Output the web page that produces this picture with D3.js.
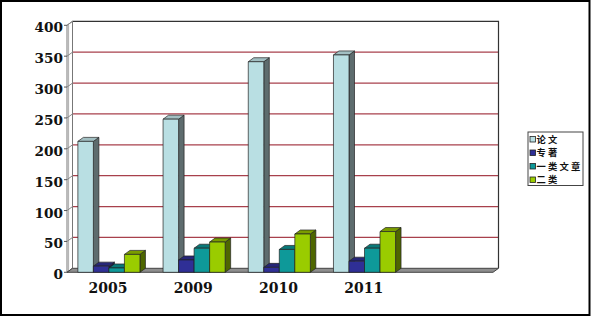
<!DOCTYPE html>
<html><head><meta charset="utf-8">
<script src="https://cdn.jsdelivr.net/npm/d3@7"></script>
<style>body{margin:0;background:#fff}svg{display:block}</style>
</head><body>
<script>
const categories = ["2005", "2009", "2010", "2011", ""];
const seriesNames = ["论文", "专著", "一类文章", "二类"];
const lunwen = [212, 248, 341, 352, null];
const zhuanzhu = [10, 20, 8, 18, null];
const yilei = [7, 39, 37, 39, null];
const erlei = [29, 49, 62, 66, null];
const yTicks = [0, 50, 100, 150, 200, 250, 300, 350, 400];

const seriesValues = [lunwen, zhuanzhu, yilei, erlei];
const colors = [
  {front: "#b9dfe3", side: "#5e6c6e", top: "#a2bfc2"},
  {front: "#2f2f96", side: "#18184e", top: "#262678"},
  {front: "#0e9999", side: "#0a4f4f", top: "#0a7878"},
  {front: "#9acc00", side: "#4e6600", top: "#7a9c00"}
];

const W = 591, H = 317, DX = 5.5, DY = 4;
const svg = d3.select("body").append("svg").attr("width", W).attr("height", H);

svg.append("rect").attr("x", 1).attr("y", 1).attr("width", 588.5).attr("height", 314)
  .attr("fill", "#fff").attr("stroke", "#000").attr("stroke-width", 2);

const y = d3.scaleLinear().domain([0, 400]).range([272.3, 25.3]);
const x = d3.scaleBand().domain(categories).range([67, 493]);
const xs = d3.scaleBand().domain(seriesNames).range([0, x.bandwidth()]).paddingOuter(0.745).align(0.47);

const g = svg.append("g");
// back wall
g.append("rect").attr("x", 67 + DX).attr("y", y(400) - DY).attr("width", 493 - 67)
  .attr("height", y(0) - y(400)).attr("fill", "#fff").attr("stroke", "none");
// gridlines
yTicks.filter(t => t > 0 && t < 400).forEach(t => {
  g.append("line").attr("x1", 67 + DX).attr("x2", 493 + DX)
    .attr("y1", y(t) - DY).attr("y2", y(t) - DY)
    .attr("stroke", "#a8404c").attr("stroke-width", 1.2);
});
g.append("polyline")
  .attr("points", `${67+DX},${y(400)-DY} ${493+DX},${y(400)-DY} ${493+DX},${y(0)-DY}`)
  .attr("fill", "none").attr("stroke", "#333").attr("stroke-width", 1.2);
// left wall
g.append("polygon")
  .attr("points", `67,${y(0)} 67,${y(400)} ${67+DX},${y(400)-DY} ${67+DX},${y(0)-DY}`)
  .attr("fill", "#fff").attr("stroke", "#777").attr("stroke-width", 1);
g.append("line").attr("x1", 68.6).attr("x2", 68.6).attr("y1", y(400) - 1).attr("y2", y(0))
  .attr("stroke", "#999").attr("stroke-width", 0.8);
yTicks.forEach(t => {
  g.append("line").attr("x1", 67).attr("x2", 67 + DX).attr("y1", y(t)).attr("y2", y(t) - DY)
    .attr("stroke", "#888").attr("stroke-width", 1);
  g.append("line").attr("x1", 64).attr("x2", 67).attr("y1", y(t)).attr("y2", y(t))
    .attr("stroke", "#555").attr("stroke-width", 1);
});
// floor
g.append("polygon")
  .attr("points", `67,${y(0)} 493,${y(0)} ${493+DX},${y(0)-DY} ${67+DX},${y(0)-DY}`)
  .attr("fill", "#8e8e8e").attr("stroke", "#444").attr("stroke-width", 1);

// bars
categories.forEach((c, ci) => {
  seriesNames.forEach((s, si) => {
    const v = seriesValues[si][ci];
    if (v == null) return;
    const x0 = x(c) + xs(s), w = xs.bandwidth();
    const yt = y(v), yb = y(0);
    const col = colors[si];
    const bg = g.append("g").attr("stroke", "#222").attr("stroke-width", 0.7).attr("stroke-linejoin", "round");
    bg.append("polygon").attr("points",
      `${x0+w},${yb} ${x0+w},${yt} ${x0+w+DX},${yt-DY} ${x0+w+DX},${yb-DY}`).attr("fill", col.side);
    bg.append("polygon").attr("points",
      `${x0},${yt} ${x0+w},${yt} ${x0+w+DX},${yt-DY} ${x0+DX},${yt-DY}`).attr("fill", col.top);
    bg.append("rect").attr("x", x0).attr("y", yt).attr("width", w).attr("height", yb - yt).attr("fill", col.front);
  });
});

// y labels
yTicks.forEach(t => {
  svg.append("text").attr("x", 63).attr("y", y(t) + 7).attr("text-anchor", "end")
    .attr("font-family", "DejaVu Serif").attr("font-weight", "bold").attr("font-size", 13.6)
    .attr("fill", "#111").text(t);
});
// x labels
categories.forEach(c => {
  if (!c) return;
  svg.append("text").attr("x", x(c) + x.bandwidth() / 2 - 1.5).attr("y", 293.3).attr("text-anchor", "middle")
    .attr("font-family", "DejaVu Serif").attr("font-weight", "bold").attr("font-size", 14)
    .attr("fill", "#111").text(c);
});

// legend
const lg = svg.append("g");
lg.append("rect").attr("x", 528).attr("y", 132).attr("width", 55).attr("height", 53.5)
  .attr("fill", "#fff").attr("stroke", "#444").attr("stroke-width", 1);
seriesNames.forEach((s, i) => {
  const cy = 139.5 + i * 13.5;
  lg.append("rect").attr("x", 530).attr("y", cy - 3).attr("width", 5.5).attr("height", 5.5)
    .attr("fill", colors[i].front).attr("stroke", "#222").attr("stroke-width", 0.8);
  lg.append("text").attr("x", 536.5).attr("y", cy + 3.4)
    .attr("font-family", "Noto Sans CJK SC").attr("font-weight", "bold").attr("font-size", 9.3)
    .attr("letter-spacing", 2.2).attr("fill", "#111").text(s);
});
</script>
</body></html>
